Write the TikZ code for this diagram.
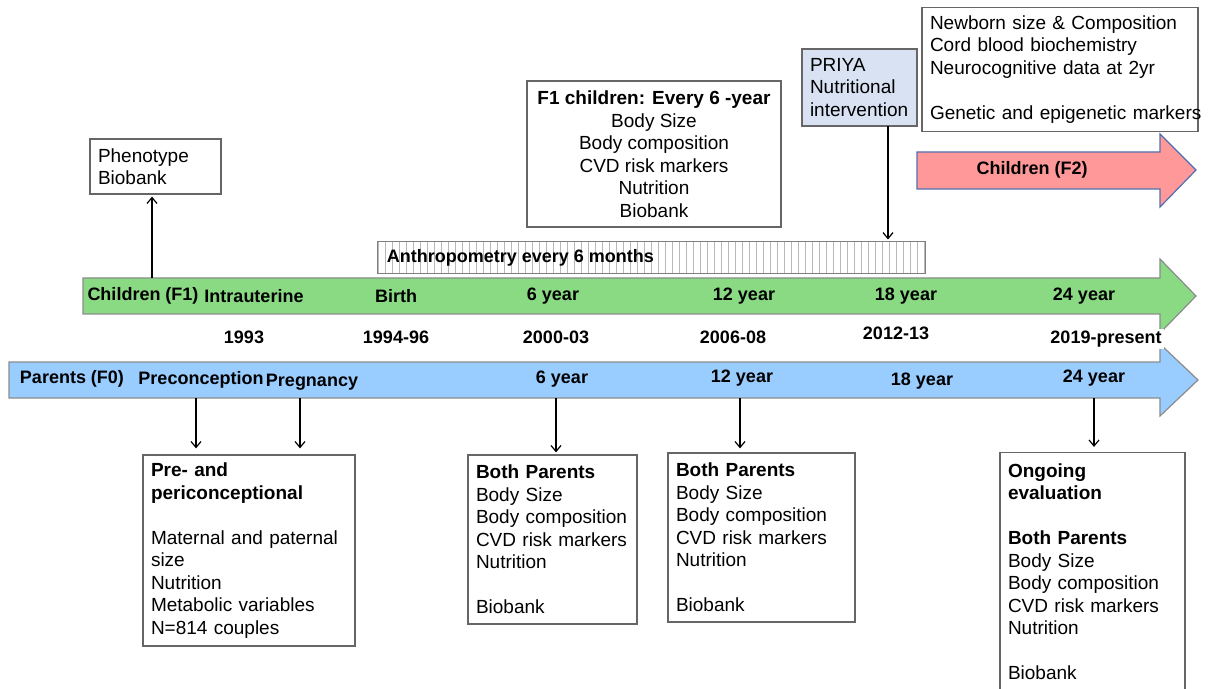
\documentclass[tikz,border=0pt]{standalone}
\usepackage{fontspec}
\setmainfont{Liberation Sans}
\usetikzlibrary{arrows.meta}
\usetikzlibrary{patterns.meta}

\definecolor{fOneGreen}{RGB}{138,218,132}
\definecolor{fZeroBlue}{RGB}{153,204,255}
\definecolor{fTwoPink}{RGB}{255,153,153}
\definecolor{fTwoEdge}{RGB}{80,110,175}
\definecolor{priyaFill}{RGB}{216,226,243}

\begin{document}
\begin{tikzpicture}
    [
    x=0.5pt, y=-0.5pt,
    >={Straight Barb[length=3pt,width=5pt]},
    infobox/.style={draw=black!60, line width=0.6pt, fill=white, align=left,
        inner xsep=4pt, inner ysep=3pt, font=\fontsize{9.5}{11.25}\selectfont},
    timebar/.style={draw=black!45, line width=0.6pt},
    timelabel/.style={font=\fontsize{9}{11}\selectfont\bfseries, inner sep=1pt},
    yearlabel/.style={timelabel, fill=white},
    link/.style={->, line width=0.6pt, shorten >=1pt},
    ]

    \useasboundingbox (0,0) rectangle (1208,689);

    % the two timelines and the F2 arrow
    \draw[timebar, fill=fOneGreen] (83,278) -- (1160,278) -- (1160,259) -- (1196,296)
        -- (1160,333) -- (1160,314) -- (83,314) -- cycle;
    \draw[timebar, fill=fZeroBlue] (9,362) -- (1160,362) -- (1160,344) -- (1198,380)
        -- (1160,416) -- (1160,398) -- (9,398) -- cycle;
    \draw[draw=fTwoEdge, line width=0.6pt, fill=fTwoPink] (917,152) -- (1160,152) -- (1160,134)
        -- (1196,170) -- (1160,207) -- (1160,189) -- (917,189) -- cycle;
    \node[timelabel] (ftwo) at (1032,170) {Children (F2)};

    \foreach \lx/\lbl [count=\i] in {143/Children (F1), 254/Intrauterine, 396/Birth,
        553/6 year, 744/12 year, 906/18 year, 1084/24 year}
        \node[timelabel] (fone\i) at (\lx,296) {\lbl};

    \foreach \lx/\ly/\lbl [count=\i] in {244/337/1993, 396/337/1994-96, 556/337/2000-03,
        733/337/2006-08, 896/333/2012-13, 1106/339/2019-present}
        \node[yearlabel] (year\i) at (\lx,\ly) {\lbl};

    \foreach \lx/\ly/\lbl [count=\i] in {72/379/Parents (F0), 201/380/Preconception,
        312/382/Pregnancy, 562/379/6 year, 742/378/12 year, 922/381/18 year, 1094/378/24 year}
        \node[timelabel] (fzero\i) at (\lx,\ly) {\lbl};

    % boxes above the timelines
    \node[infobox, text width=57.5pt, minimum height=27.5pt] (pheno) at (155.5,166.5)
    {Phenotype\\Biobank};

    \node[infobox, align=center, minimum width=127pt, minimum height=73pt] (fonebox) at (654,154)
    {\textbf{F1 children: Every 6 -year}\\Body Size\\Body composition\\CVD risk markers\\Nutrition\\Biobank};

    \node[infobox, fill=priyaFill, text width=49.5pt, minimum height=38.5pt] (priya) at (859.5,87.5)
    {PRIYA\\Nutritional\\intervention};

    \node[infobox, text width=130pt, minimum height=62pt] (newborn) at (1060,69.5)
    {Newborn size \& Composition\\Cord blood biochemistry\\Neurocognitive data at 2yr\\[11.25pt]
     \makebox[130pt][l]{Genetic and epigenetic markers}};

    \node[draw=black!50, line width=0.5pt, minimum width=274pt, minimum height=16pt,
        pattern={Lines[angle=90,distance=3.5pt,line width=0.5pt]}, pattern color=black!28,
        inner sep=0pt] (anthro) at (651,258) {};
    \node[timelabel, anchor=west] (anthrotext) at ([xshift=4pt]anthro.west) {Anthropometry every 6 months};

    % boxes below the timelines
    \node[infobox, text width=98pt, minimum height=95.5pt] (pre) at (249,550.5)
    {\textbf{Pre- and}\\\textbf{periconceptional}\\[11.25pt]Maternal and paternal\\size\\Nutrition\\Metabolic variables\\N=814 couples};

    \node[infobox, text width=76.5pt, minimum height=84.5pt] (bothsix) at (552.5,539.5)
    {\textbf{Both Parents}\\Body Size\\Body composition\\CVD risk markers\\Nutrition\\[11.25pt]Biobank};

    \node[infobox, text width=85.5pt, minimum height=84.5pt] (bothtwelve) at (761.5,537.5)
    {\textbf{Both Parents}\\Body Size\\Body composition\\CVD risk markers\\Nutrition\\[11.25pt]Biobank};

    \node[infobox, text width=84.5pt, minimum height=119pt] (ongoing) at (1092.5,571.5)
    {\textbf{Ongoing}\\\textbf{evaluation}\\[11.25pt]\textbf{Both Parents}\\Body Size\\Body composition\\CVD risk markers\\Nutrition\\[11.25pt]Biobank};

    % connectors
    \coordinate (fonefoot) at (152,278);
    \coordinate (priyafoot) at (888,126);
    \coordinate (precon) at (196,398);
    \coordinate (pregn) at (300,398);
    \coordinate (sixfoot) at (556,398);
    \coordinate (twelvefoot) at (740,398);
    \coordinate (tfourfoot) at (1094,398);

    \draw[link] (fonefoot) -- (fonefoot |- pheno.south);
    \draw[link] (priyafoot) -- (priyafoot |- anthro.north);
    \draw[link, shorten >=3pt] (precon) -- (precon |- pre.north);
    \draw[link, shorten >=3pt] (pregn) -- (pregn |- pre.north);
    \draw[link] (sixfoot) -- (sixfoot |- bothsix.north);
    \draw[link, shorten >=2pt] (twelvefoot) -- (twelvefoot |- bothtwelve.north);
    \draw[link, shorten >=2.5pt] (tfourfoot) -- (tfourfoot |- ongoing.north);
\end{tikzpicture}
\end{document}
